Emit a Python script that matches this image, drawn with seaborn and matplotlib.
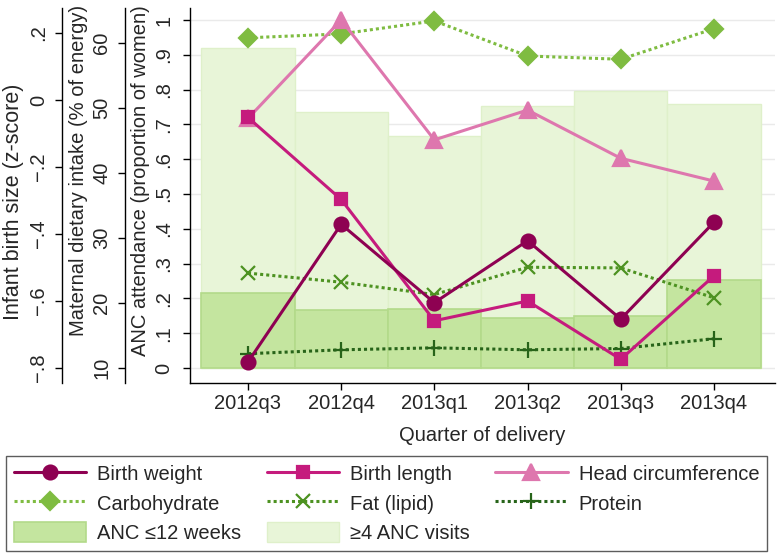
import pandas as pd
import numpy as np
import matplotlib
matplotlib.use('Agg')
import matplotlib.pyplot as plt
from matplotlib.patches import Patch
import seaborn as sns

quarters = ["2012q3", "2012q4", "2013q1", "2013q2", "2013q3", "2013q4"]

# ANC attendance (proportion of women)
anc_4visits = [0.92, 0.735, 0.667, 0.753, 0.797, 0.759]
anc_12weeks = [0.215, 0.167, 0.170, 0.143, 0.149, 0.253]

# infant birth size (z-score)
birth_weight = [-0.782, -0.371, -0.605, -0.420, -0.654, -0.365]
birth_length = [-0.052, -0.297, -0.659, -0.600, -0.774, -0.525]
head_circ = [-0.055, 0.239, -0.119, -0.030, -0.174, -0.242]

# maternal dietary intake (% of energy)
carbohydrate = [60.8, 61.4, 63.4, 58.0, 57.5, 62.2]
fat = [24.6, 23.2, 21.3, 25.5, 25.4, 20.8]
protein = [12.2, 12.8, 13.1, 12.8, 13.0, 14.5]

df = pd.DataFrame({
    "quarter": quarters, "pos": np.arange(len(quarters)),
    "anc4": anc_4visits, "anc12": anc_12weeks,
    "bw": birth_weight, "bl": birth_length, "hc": head_circ,
    "carb": carbohydrate, "fat": fat, "prot": protein,
})

sns.set_theme(style="white")
plt.rcParams['font.family'] = ['Liberation Sans', 'DejaVu Sans']
FS = 14.5

light_fc, light_ec = "#E8F5D8", "#DFF0CA"
dark_fc, dark_ec = "#C4E59F", "#B3DA8A"

fig = plt.figure(figsize=(7.77, 5.57), dpi=100)
ax = fig.add_axes([190/777, 1 - 383/557, 585/777, 375/557])

sns.barplot(data=df, x="quarter", y="anc4", color=light_fc, saturation=1,
            width=1.0, edgecolor=light_ec, linewidth=1, ax=ax)
sns.barplot(data=df, x="quarter", y="anc12", color=dark_fc, saturation=1,
            width=1.0, edgecolor=dark_ec, linewidth=1.2, ax=ax)

ax.set_xlim(-0.622, 5.655)
ax.set_ylim(-15/348, 1 + 12/348)
anc_ticks = np.round(np.arange(0, 1.01, 0.1), 1)
anc_labels = ["0"] + [f".{i}" for i in range(1, 10)] + ["1"]
ax.set_yticks(anc_ticks, anc_labels, rotation=90, va="center", fontsize=FS)
ax.set_ylabel("ANC attendance (proportion of women)", fontsize=FS)
ax.yaxis.set_label_coords(-0.068, 0.541)
ax.set_xticks(range(len(quarters)), quarters, fontsize=FS)
ax.set_xlabel("Quarter of delivery", fontsize=FS, labelpad=9)
ax.grid(axis="y", color="#EAEAEA", linewidth=1)
ax.set_axisbelow(True)
for s in ["top", "right"]:
    ax.spines[s].set_visible(False)
for s in ["left", "bottom"]:
    ax.spines[s].set_color("black")
    ax.spines[s].set_linewidth(1)
ax.tick_params(axis="x", length=5, width=1, color="black", bottom=True, pad=3)
ax.tick_params(axis="y", length=5, width=1, color="black", left=True, pad=7)


def side_axis(offset_px, pad):
    a = ax.twinx()
    for s in ["top", "right", "bottom"]:
        a.spines[s].set_visible(False)
    a.spines["left"].set_visible(True)
    a.spines["left"].set_position(("outward", offset_px * 0.72))
    a.spines["left"].set_color("black")
    a.spines["left"].set_linewidth(1)
    a.yaxis.set_ticks_position("left")
    a.yaxis.set_label_position("left")
    a.tick_params(axis="y", length=5, width=1, color="black", pad=pad)
    a.grid(False)
    return a


# diet axis first so the birth size lines sit on top
ax_d = side_axis(65, 5)
ax_d.set_ylim(10 - 15/6.5, 60 + 35/6.5)
ax_d.set_yticks([10, 20, 30, 40, 50, 60], ["10", "20", "30", "40", "50", "60"],
                rotation=90, va="center", fontsize=FS)
ax_d.set_ylabel("Maternal dietary intake (% of energy)", fontsize=FS)
ax_d.yaxis.set_label_coords(-0.174, 0.568)

ax_z = side_axis(128, 5)
ax_z.set_ylim(-0.8 - 15/335, 0.2 + 25/335)
ax_z.set_yticks([-0.8, -0.6, -0.4, -0.2, 0, 0.2], ["\u2212.8", "\u2212.6", "\u2212.4", "\u2212.2", "0", ".2"],
                rotation=90, va="center", fontsize=FS)
ax_z.set_ylabel("Infant birth size (z-score)", fontsize=15.5)
ax_z.yaxis.set_label_coords(-0.284, 0.483)

dots = (0, (1, 1))
handles = {}
for col, lab, c, m, ms, ls, target in [
    ("carb", "Carbohydrate", "#7FBC41", "D", 9.5, dots, ax_d),
    ("fat", "Fat (lipid)", "#4D9221", "x", 10, dots, ax_d),
    ("prot", "Protein", "#276419", "+", 12, dots, ax_d),
    ("hc", "Head circumference", "#DE77AE", "^", 11, "-", ax_z),
    ("bl", "Birth length", "#C51B7D", "s", 8.5, "-", ax_z),
    ("bw", "Birth weight", "#8E0152", "o", 10, "-", ax_z),
]:
    sns.lineplot(data=df, x="pos", y=col, color=c, marker=m, markersize=ms,
                 linestyle=ls, linewidth=2.2, markeredgecolor=c, markeredgewidth=1.6,
                 ax=target, legend=False)
    line = target.lines[-1]
    line.set_label(lab)
    handles[lab] = line

ax_d.set_xlabel("")
ax_z.set_xlabel("")
ax.set_xlim(-0.622, 5.655)

handles["ANC \u226412 weeks"] = Patch(facecolor=dark_fc, edgecolor=dark_ec, linewidth=1.2)
handles["\u22654 ANC visits"] = Patch(facecolor=light_fc, edgecolor=light_ec, linewidth=1)

order = ["Birth weight", "Carbohydrate", "ANC \u226412 weeks",
         "Birth length", "Fat (lipid)", "\u22654 ANC visits",
         "Head circumference", "Protein"]
leg = fig.legend([handles[k] for k in order], order, ncol=3, loc="upper left",
                 bbox_to_anchor=(6/777, 1 - 456/557), fontsize=FS,
                 frameon=True, fancybox=False, edgecolor="#333333",
                 handlelength=3.6, handleheight=1.15, handletextpad=0.55,
                 columnspacing=1.25, labelspacing=0.42, borderpad=0.38,
                 borderaxespad=0)
leg.get_frame().set_linewidth(1)

fig.savefig("out.png", dpi=100)
